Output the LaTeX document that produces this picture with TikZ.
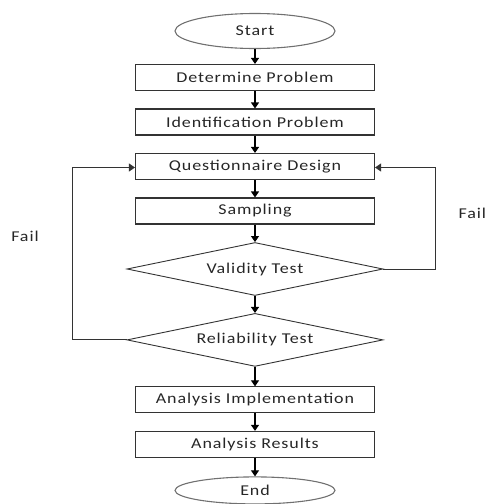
\documentclass[tikz,border=0pt]{standalone}
\usepackage{fontspec}
\setmainfont{Carlito}
\newfontfamily\flowfont[LetterSpace=6,FakeStretch=1.2]{Carlito}
\usetikzlibrary{shapes.geometric,arrows.meta,positioning}
\definecolor{lineclr}{HTML}{333333}
\tikzset{
  stepbox/.style={rectangle,draw=lineclr,line width=1.1pt,minimum width=239pt,
    minimum height=26pt,font=\fontsize{15}{16}\flowfont,text=black!85,inner sep=0pt},
  term/.style={ellipse,draw=lineclr!70,line width=1.1pt,minimum width=160pt,
    minimum height=35pt,font=\fontsize{15}{16}\flowfont,text=black!85,inner sep=0pt},
  test/.style={diamond,aspect=4.8,draw=lineclr,line width=0.9pt,minimum width=256pt,
    minimum height=53pt,font=\fontsize{15}{16}\flowfont,text=black!85,inner sep=0pt},
  arr/.style={-{Triangle[length=6pt,width=8pt]},line width=1.1pt,black},
  loop/.style={-{Triangle[length=6pt,width=8pt]},line width=0.9pt,lineclr},
  lbl/.style={font=\fontsize{15}{16}\flowfont,text=black!85},
}
\begin{document}
\begin{tikzpicture}[x=1pt,y=-1pt,node distance=17.4pt]
  \useasboundingbox (0,0) rectangle (490,504);
  \node[term] (start) at (255,31) {Start};
  \node[stepbox,below=14.9pt of start] (determine) {Determine Problem};
  \node[stepbox,below=of determine] (ident) {Identification Problem};
  \node[stepbox,below=of ident] (design) {Questionnaire Design};
  \node[stepbox,below=of design] (sampling) {Sampling};
  \node[test,below=17.5pt of sampling] (valid) {Validity Test};
  \node[test,below=17pt of valid] (reliab) {Reliability Test};
  \node[stepbox,below=19.5pt of reliab] (implement) {Analysis Implementation};
  \node[stepbox,below=of implement] (results) {Analysis Results};
  \node[term,below=18.4pt of results,minimum height=27pt] (end) {End};
  \coordinate (leftbend) at (72,0);
  \coordinate (rightbend) at (435,0);
  \node[lbl] (failleft) at (25,236) {Fail};
  \node[lbl,anchor=east] (failright) at (489.5,213) {Fail};
  \draw[arr] (start) -- (determine);
  \draw[arr] (determine) -- (ident);
  \draw[arr] (ident) -- (design);
  \draw[arr] (design) -- (sampling);
  \draw[arr] (sampling) -- (valid);
  \draw[arr] (valid) -- (reliab);
  \draw[arr] (reliab) -- (implement);
  \draw[arr] (implement) -- (results);
  \draw[arr] (results) -- (end);
  \draw[loop] (reliab.west) -- (reliab.west -| leftbend) -- ([yshift=-1pt]design.west -| leftbend) -- ([yshift=-1pt]design.west);
  \draw[loop] (valid.east) -- (valid.east -| rightbend) -- ([yshift=-1pt]design.east -| rightbend) -- ([yshift=-1pt]design.east);
\end{tikzpicture}
\end{document}
